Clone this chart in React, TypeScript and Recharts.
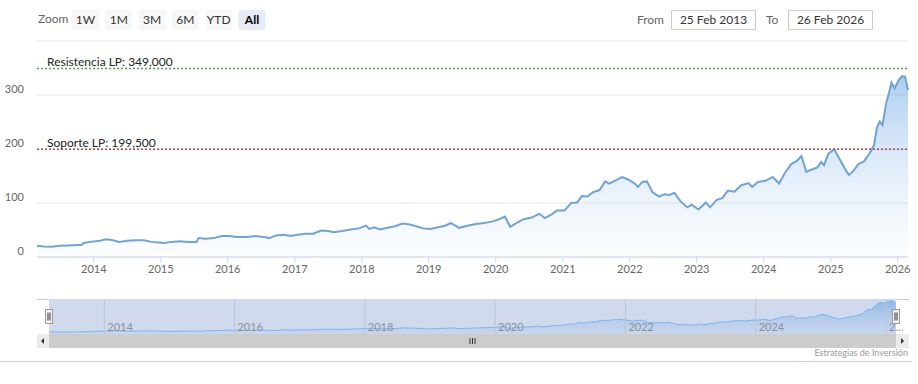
import React from "react";
import {
  AreaChart,
  Area,
  XAxis,
  YAxis,
  CartesianGrid,
  ReferenceLine,
  ReferenceArea,
} from "recharts";

const dates = [
  "2013-02-25", "2013-04-01", "2013-05-15", "2013-07-01", "2013-08-15", "2013-10-01", "2013-10-25", "2013-11-05",
  "2013-12-15", "2014-02-01", "2014-03-10", "2014-04-15", "2014-05-20", "2014-07-01", "2014-08-15", "2014-10-01",
  "2014-11-10", "2014-12-20", "2015-01-20", "2015-03-01", "2015-04-15", "2015-06-01", "2015-07-15", "2015-07-25",
  "2015-09-01", "2015-10-15", "2015-12-01", "2016-01-10", "2016-02-20", "2016-04-15", "2016-06-01", "2016-07-15",
  "2016-08-15", "2016-09-20", "2016-11-01", "2016-12-10", "2017-01-15", "2017-03-01", "2017-04-10", "2017-05-25",
  "2017-07-01", "2017-08-01", "2017-09-15", "2017-11-01", "2017-12-15", "2018-01-25", "2018-02-10", "2018-03-10",
  "2018-04-10", "2018-05-20", "2018-07-01", "2018-08-10", "2018-09-20", "2018-10-25", "2018-12-01", "2019-01-10",
  "2019-02-20", "2019-04-01", "2019-05-01", "2019-06-15", "2019-08-01", "2019-09-15", "2019-11-01", "2019-12-15",
  "2020-01-20", "2020-02-20", "2020-03-20", "2020-04-25", "2020-06-01", "2020-07-15", "2020-08-25", "2020-09-25",
  "2020-11-01", "2020-11-30", "2021-01-10", "2021-02-15", "2021-03-20", "2021-04-15", "2021-05-15", "2021-06-15",
  "2021-07-20", "2021-08-20", "2021-09-10", "2021-10-10", "2021-11-20", "2021-12-20", "2022-01-25", "2022-02-15",
  "2022-03-10", "2022-04-05", "2022-05-05", "2022-06-10", "2022-07-10", "2022-08-05", "2022-09-01", "2022-10-05",
  "2022-11-10", "2022-12-05", "2023-01-10", "2023-02-20", "2023-03-15", "2023-04-20", "2023-05-20", "2023-06-20",
  "2023-07-25", "2023-09-01", "2023-10-10", "2023-10-30", "2023-12-01", "2024-01-10", "2024-02-20", "2024-03-25",
  "2024-04-25", "2024-05-30", "2024-06-30", "2024-07-25", "2024-08-20", "2024-09-20", "2024-10-20", "2024-11-10",
  "2024-11-25", "2024-12-20", "2025-01-20", "2025-02-20", "2025-03-25", "2025-04-10", "2025-05-01", "2025-06-01",
  "2025-07-01", "2025-08-01", "2025-08-25", "2025-09-10", "2025-09-25", "2025-10-10", "2025-10-30", "2025-11-15",
  "2025-11-28", "2025-12-15", "2026-01-05", "2026-01-25", "2026-02-10", "2026-02-26",
];

const prices = [
  21, 19.5, 19, 21, 21.5, 22, 22, 26,
  28, 30, 33, 31, 28, 30, 31, 31,
  28, 27, 26, 28, 29, 28, 28, 35,
  34, 35, 39, 39, 37, 37, 39, 37,
  35, 40, 41, 39, 41, 43, 43, 49,
  48, 46, 48, 51, 53, 58, 52, 55,
  51, 54, 57, 62, 60, 57, 53, 52,
  55, 58, 63, 54, 58, 61, 63, 66,
  70, 75, 56, 63, 70, 73, 80, 72,
  79, 86, 86, 100, 101, 113, 112, 120,
  124, 140, 136, 141, 148, 144, 137, 130,
  139, 140, 120, 112, 116, 115, 119, 103,
  92, 97, 88, 101, 92, 106, 109, 123,
  121, 133, 137, 130, 139, 141, 148, 136,
  155, 172, 178, 187, 158, 162, 166, 176,
  170, 192, 199, 180, 160, 152, 158, 172,
  177, 192, 207, 240, 251, 244, 285, 305,
  323, 312, 327, 335, 334, 309,
];

const yTicks = [0, 100, 200, 300, 400];
const yearTicks = [2014, 2015, 2016, 2017, 2018, 2019, 2020, 2021, 2022, 2023, 2024, 2025, 2026];
const navYears = [2014, 2016, 2018, 2020, 2022, 2024, 2026];
const rangeButtons = ["1W", "1M", "3M", "6M", "YTD", "All"];
const resistance = 349;
const support = 199.5;

const data = dates.map((d, i) => ({ t: Date.parse(d), v: prices[i] }));
const start = data[0].t;
const end = data[data.length - 1].t;
const yr = (y: number) => Date.UTC(y, 0, 1);

const FONT = "Lato, 'DejaVu Sans', sans-serif";

function YTick(props: any) {
  const { x, y, payload } = props;
  if (payload.value === 400) return null;
  return (
    <text x={x} y={y - 5} textAnchor="end" dominantBaseline="middle" fontSize={11} fill="#666" fontFamily={FONT}>
      {payload.value}
    </text>
  );
}

export default function App() {
  return (
    <div style={{ position: "absolute", left: 0, top: 0, width: 918, height: 384, background: "#fff", fontFamily: FONT }}>
      <div style={{ position: "absolute", left: 0, top: 0 }}>
        <AreaChart width={918} height={280} data={data} margin={{ top: 41, right: 10, bottom: 0, left: 0 }}>
          <defs>
            <linearGradient id="mainFill" x1="0" y1="0" x2="0" y2="1">
              <stop offset="0%" stopColor="#6fa8e6" stopOpacity={0.95} />
              <stop offset="100%" stopColor="#e8f1fb" stopOpacity={0.3} />
            </linearGradient>
          </defs>
          <CartesianGrid vertical={false} stroke="#e6e6e6" />
          <XAxis
            dataKey="t"
            type="number"
            scale="time"
            domain={[start, end]}
            ticks={yearTicks.map(yr)}
            tickFormatter={(v) => String(new Date(v).getUTCFullYear())}
            height={23}
            stroke="#ccd6eb"
            tickSize={6}
            tickMargin={2}
            tick={{ fill: "#666", fontSize: 11, fontFamily: FONT }}
          />
          <YAxis
            domain={[0, 400]}
            ticks={yTicks}
            width={37}
            axisLine={false}
            tickLine={false}
            tickSize={0}
            tickMargin={13}
            tick={<YTick />}
          />
          <Area
            type="linear"
            dataKey="v"
            stroke="#72a3d2"
            strokeWidth={2}
            fill="url(#mainFill)"
            isAnimationActive={false}
            dot={false}
            activeDot={false}
          />
          <ReferenceLine
            y={resistance}
            stroke="#5a9a5a"
            strokeWidth={1.5}
            strokeDasharray="2 2"
            label={{ value: "Resistencia LP: 349,000", position: "insideTopLeft", offset: 0, dx: 10, dy: -11, fill: "#222", fontSize: 12, fontFamily: FONT }}
          />
          <ReferenceLine
            y={support}
            stroke="#a04e4e"
            strokeWidth={1.5}
            strokeDasharray="2 2"
            label={{ value: "Soporte LP: 199,500", position: "insideTopLeft", offset: 0, dx: 10, dy: -11, fill: "#222", fontSize: 12, fontFamily: FONT }}
          />
        </AreaChart>
      </div>

      <div style={{ position: "absolute", left: 0, top: 299 }}>
        <AreaChart width={918} height={35} data={data} margin={{ top: 0, right: 22, bottom: 0, left: 49 }}>
          <defs>
            <linearGradient id="navFill" x1="0" y1="0" x2="0" y2="1">
              <stop offset="0%" stopColor="#5f9be0" stopOpacity={0.9} />
              <stop offset="100%" stopColor="#9dc3ee" stopOpacity={0.3} />
            </linearGradient>
          </defs>
          <XAxis dataKey="t" type="number" scale="time" domain={[start, end]} hide />
          <YAxis domain={[0, 355]} hide />
          <ReferenceArea x1={start} x2={end} fill="#6685c2" fillOpacity={0.3} stroke="none" />
          {navYears.map((y) => (
            <ReferenceLine
              key={y}
              x={yr(y)}
              stroke="#b9c5dc"
              strokeWidth={1}
              label={{
                value: y === 2026 ? "2…" : String(y),
                position: "insideBottomLeft",
                offset: 3,
                fill: "#8a8f99",
                fontSize: 11,
                fontFamily: FONT,
              }}
            />
          ))}
          <Area
            type="linear"
            dataKey="v"
            stroke="#7cb5ec"
            strokeWidth={1}
            fill="url(#navFill)"
            isAnimationActive={false}
            dot={false}
            activeDot={false}
          />
        </AreaChart>
      </div>

      <svg width={918} height={384} style={{ position: "absolute", left: 0, top: 0, pointerEvents: "none" }} fontFamily={FONT}>
        <text x={38} y={23} fontSize={12} fill="#666">Zoom</text>
        {rangeButtons.map((b, i) => {
          const bx = 72 + i * 33.3;
          const sel = b === "All";
          return (
            <g key={b}>
              <rect x={bx} y={10} width={27} height={20} fill={sel ? "#e6ebf5" : "#f7f7f7"} />
              <text x={bx + 13.5} y={24} textAnchor="middle" fontSize={12} fill={sel ? "#000" : "#333"} fontWeight={sel ? 700 : 400}>
                {b}
              </text>
            </g>
          );
        })}
        <text x={664} y={24} textAnchor="end" fontSize={12} fill="#666">From</text>
        <rect x={671.5} y={10.5} width={84} height={19} fill="#fff" stroke="#cccccc" />
        <text x={713.5} y={24} textAnchor="middle" fontSize={12} fill="#333">25 Feb 2013</text>
        <text x={766} y={24} fontSize={12} fill="#666">To</text>
        <rect x={788.5} y={10.5} width={84} height={19} fill="#fff" stroke="#cccccc" />
        <text x={830.5} y={24} textAnchor="middle" fontSize={12} fill="#333">26 Feb 2026</text>

        <line x1={37} y1={299.5} x2={49} y2={299.5} stroke="#cccccc" />
        <line x1={896} y1={299.5} x2={909} y2={299.5} stroke="#cccccc" />
        {[49, 896].map((hx) => (
          <g key={hx}>
            <rect x={hx - 3.5} y={309.5} width={7} height={14} fill="#f2f2f2" stroke="#999" />
            <line x1={hx - 1} y1={312.5} x2={hx - 1} y2={320.5} stroke="#333" />
            <line x1={hx + 1} y1={312.5} x2={hx + 1} y2={320.5} stroke="#333" />
          </g>
        ))}

        <rect x={37} y={334} width={12} height={14} fill="#ebebeb" />
        <rect x={896} y={334} width={13} height={14} fill="#ebebeb" />
        <rect x={49} y={334} width={847} height={14} fill="#cccccc" />
        <path d="M 44 338 L 44 344 L 41 341 Z" fill="#333" />
        <path d="M 901 338 L 901 344 L 904 341 Z" fill="#333" />
        {[-2.5, 0, 2.5].map((dx) => (
          <line key={dx} x1={472.5 + dx} y1={338} x2={472.5 + dx} y2={344} stroke="#333" />
        ))}

        <text x={908} y={356} textAnchor="end" fontSize={9} fill="#999">Estrategias de Inversión</text>
        <line x1={0} y1={361.5} x2={912} y2={361.5} stroke="#cccccc" />
      </svg>
    </div>
  );
}
